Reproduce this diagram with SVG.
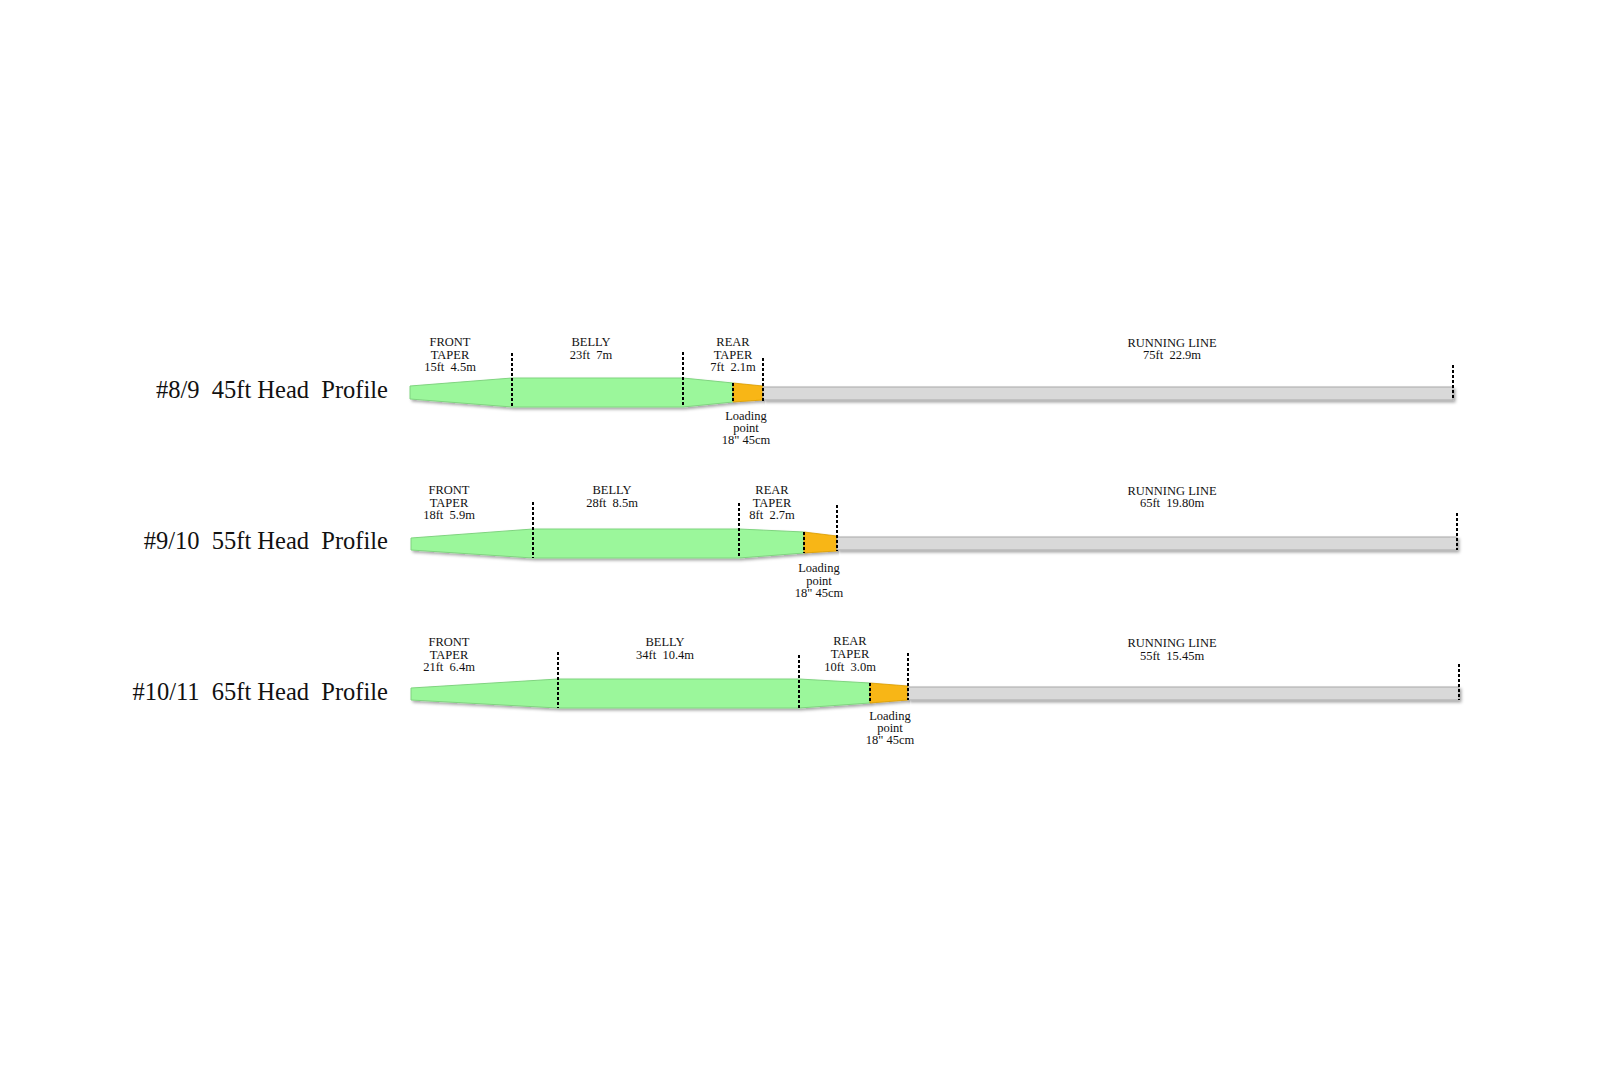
<svg xmlns="http://www.w3.org/2000/svg" width="1600" height="1080" viewBox="0 0 1600 1080">
<defs>
<filter id="sh" x="-5%" y="-50%" width="110%" height="200%">
<feDropShadow dx="2" dy="2" stdDeviation="1.5" flood-color="#000" flood-opacity="0.35"/>
</filter>
</defs>
<style>
.t{font-family:"Liberation Serif","Times New Roman",serif;fill:#111;}
.title{font-size:24.5px;text-anchor:end;}
.lbl{font-size:12.5px;text-anchor:middle;}
.green{fill:#9bf79b;stroke:#80d480;stroke-width:1;}
.orange{fill:#f8b612;stroke:#d99c00;stroke-width:0.8;}
.grey{fill:#d9d9d9;stroke:#a9a9a9;stroke-width:1;}
.dash{stroke:#000;stroke-width:2;stroke-dasharray:3 2;fill:none;}
</style>
<rect width="1600" height="1080" fill="#fff"/>

<g id="row1">
<text class="t title" x="388" y="398" xml:space="preserve">#8/9  45ft Head  Profile</text>
<g id="r1-head" filter="url(#sh)">
<polygon class="green" points="410,386 512,378 683,378 733,383 733,402 683,407 512,407 410,399"/>
</g>
<g id="r1-load" filter="url(#sh)">
<polygon class="orange" points="733,383 763,386 763,400 733,402"/>
</g>
<g id="r1-running" filter="url(#sh)">
<rect class="grey" x="763" y="387" width="690" height="13"/>
</g>
<g id="r1-labels">
<text class="t lbl" x="450" y="346">FRONT</text>
<text class="t lbl" x="450" y="358.5">TAPER</text>
<text class="t lbl" x="450" y="370.5" xml:space="preserve">15ft  4.5m</text>
<text class="t lbl" x="591" y="346">BELLY</text>
<text class="t lbl" x="591" y="358.5" xml:space="preserve">23ft  7m</text>
<text class="t lbl" x="733" y="346">REAR</text>
<text class="t lbl" x="733" y="358.5">TAPER</text>
<text class="t lbl" x="733" y="370.5" xml:space="preserve">7ft  2.1m</text>
<text class="t lbl" x="746" y="420">Loading</text>
<text class="t lbl" x="746" y="432">point</text>
<text class="t lbl" x="746" y="444">18&quot; 45cm</text>
<text class="t lbl" x="1172" y="347">RUNNING LINE</text>
<text class="t lbl" x="1172" y="358.5" xml:space="preserve">75ft  22.9m</text>
</g>
</g>

<g id="row2">
<text class="t title" x="388" y="549" xml:space="preserve">#9/10  55ft Head  Profile</text>
<g id="r2-head" filter="url(#sh)">
<polygon class="green" points="411,538 533,529 739,529 804,532 804,553 739,558 533,558 411,550"/>
</g>
<g id="r2-load" filter="url(#sh)">
<polygon class="orange" points="804,532 837,536 837,551 804,553"/>
</g>
<g id="r2-running" filter="url(#sh)">
<rect class="grey" x="837" y="537" width="620" height="13"/>
</g>
<g id="r2-labels">
<text class="t lbl" x="449" y="494">FRONT</text>
<text class="t lbl" x="449" y="506.5">TAPER</text>
<text class="t lbl" x="449" y="519" xml:space="preserve">18ft  5.9m</text>
<text class="t lbl" x="612" y="494">BELLY</text>
<text class="t lbl" x="612" y="506.5" xml:space="preserve">28ft  8.5m</text>
<text class="t lbl" x="772" y="494">REAR</text>
<text class="t lbl" x="772" y="506.5">TAPER</text>
<text class="t lbl" x="772" y="519" xml:space="preserve">8ft  2.7m</text>
<text class="t lbl" x="819" y="572">Loading</text>
<text class="t lbl" x="819" y="584.5">point</text>
<text class="t lbl" x="819" y="597">18&quot; 45cm</text>
<text class="t lbl" x="1172" y="495">RUNNING LINE</text>
<text class="t lbl" x="1172" y="507" xml:space="preserve">65ft  19.80m</text>
</g>
</g>

<g id="row3">
<text class="t title" x="388" y="700" xml:space="preserve">#10/11  65ft Head  Profile</text>
<g id="r3-head" filter="url(#sh)">
<polygon class="green" points="411,688 558,679 799,679 870,683 870,703 799,708 558,708 411,700"/>
</g>
<g id="r3-load" filter="url(#sh)">
<polygon class="orange" points="870,683 908,686 908,700 870,703"/>
</g>
<g id="r3-running" filter="url(#sh)">
<rect class="grey" x="908" y="687" width="551" height="13"/>
</g>
<g id="r3-labels">
<text class="t lbl" x="449" y="646">FRONT</text>
<text class="t lbl" x="449" y="658.5">TAPER</text>
<text class="t lbl" x="449" y="671" xml:space="preserve">21ft  6.4m</text>
<text class="t lbl" x="665" y="646">BELLY</text>
<text class="t lbl" x="665" y="658.5" xml:space="preserve">34ft  10.4m</text>
<text class="t lbl" x="850" y="645">REAR</text>
<text class="t lbl" x="850" y="658">TAPER</text>
<text class="t lbl" x="850" y="671" xml:space="preserve">10ft  3.0m</text>
<text class="t lbl" x="890" y="720">Loading</text>
<text class="t lbl" x="890" y="732">point</text>
<text class="t lbl" x="890" y="744">18&quot; 45cm</text>
<text class="t lbl" x="1172" y="647">RUNNING LINE</text>
<text class="t lbl" x="1172" y="660" xml:space="preserve">55ft  15.45m</text>
</g>
</g>

<g id="connectors">
<line class="dash" x1="512" y1="353" x2="512" y2="407"/>
<line class="dash" x1="683" y1="352" x2="683" y2="407"/>
<line class="dash" x1="733" y1="383" x2="733" y2="402"/>
<line class="dash" x1="763" y1="358" x2="763" y2="401"/>
<line class="dash" x1="1453" y1="365" x2="1453" y2="400"/>
<line class="dash" x1="533" y1="502" x2="533" y2="558"/>
<line class="dash" x1="739" y1="503" x2="739" y2="558"/>
<line class="dash" x1="804" y1="532" x2="804" y2="553"/>
<line class="dash" x1="837" y1="505" x2="837" y2="551"/>
<line class="dash" x1="1457" y1="513" x2="1457" y2="550"/>
<line class="dash" x1="558" y1="652" x2="558" y2="708"/>
<line class="dash" x1="799" y1="655" x2="799" y2="708"/>
<line class="dash" x1="870" y1="683" x2="870" y2="703"/>
<line class="dash" x1="908" y1="653" x2="908" y2="700"/>
<line class="dash" x1="1459" y1="664" x2="1459" y2="700"/>
</g>
</svg>
